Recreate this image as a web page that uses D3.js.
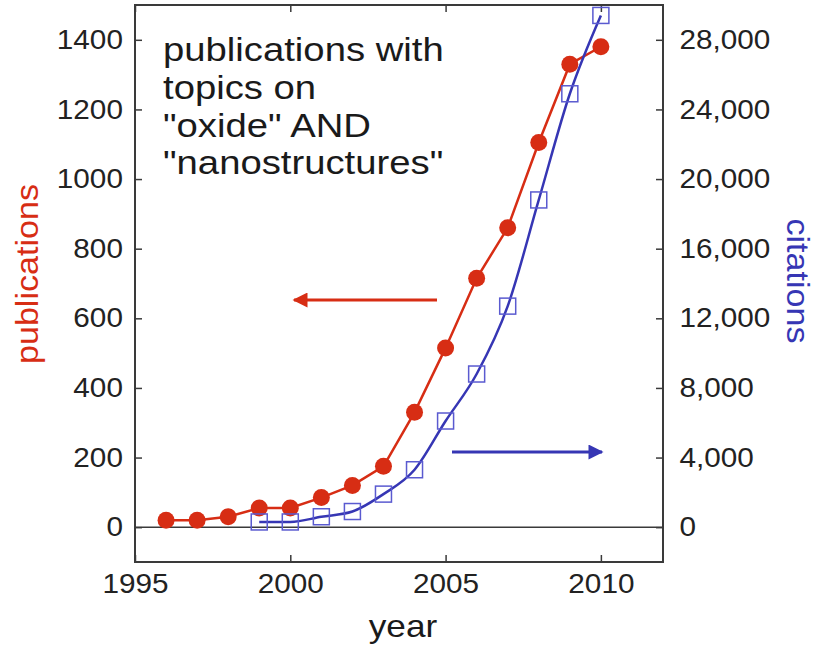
<!DOCTYPE html>
<html>
<head>
<meta charset="utf-8">
<script src="https://cdn.jsdelivr.net/npm/d3@7"></script>
<style>
  body { margin: 0; background: #fff; }
  svg { font-family: "Liberation Sans", Arial, sans-serif; }
</style>
</head>
<body>
<svg id="chart" width="815" height="646"></svg>
<script>
// values
var pubYears = [1996, 1997, 1998, 1999, 2000, 2001, 2002, 2003, 2004, 2005, 2006, 2007, 2008, 2009, 2010];
var publications = [20, 20, 30, 55, 55, 85, 120, 175, 330, 515, 715, 860, 1105, 1330, 1380];
var citYears = [1999, 2000, 2001, 2002, 2003, 2004, 2005, 2006, 2007, 2008, 2009, 2010];
var citations = [300, 300, 600, 900, 1900, 3300, 6100, 8800, 12700, 18800, 24900, 29400];
var xTicks = [1995, 2000, 2005, 2010];
var leftTicks = [0, 200, 400, 600, 800, 1000, 1200, 1400];
var rightTicks = [0, 4000, 8000, 12000, 16000, 20000, 24000, 28000];
var noteLines = ['publications with', 'topics on', '"oxide" AND', '"nanostructures"'];

var red = '#d72d14', blue = '#3636b4', frameColor = '#3a3a3a';
var plotLeft = 135, plotRight = 663, plotTop = 5, plotBottom = 562;
// the source figure's lettering is a bit wider than Liberation Sans
var stretch = 1.1;

var svg = d3.select('#chart');

var x = d3.scaleLinear().domain([1995, 2012]).range([plotLeft, plotRight]);
var yPub = d3.scaleLinear().domain([-100, 1500]).range([plotBottom, plotTop]);
var yCit = d3.scaleLinear().domain([-2000, 30000]).range([plotBottom, plotTop]);

// frame
svg.append('rect')
    .attr('x', plotLeft).attr('y', plotTop)
    .attr('width', plotRight - plotLeft).attr('height', plotBottom - plotTop)
    .attr('fill', 'none').attr('stroke', frameColor).attr('stroke-width', 2);

// zero line
svg.append('line')
    .attr('x1', plotLeft).attr('x2', plotRight)
    .attr('y1', yPub(0)).attr('y2', yPub(0))
    .attr('stroke', frameColor).attr('stroke-width', 1.5);

function styleAxis(g) {
    g.select('.domain').remove();
    g.selectAll('.tick line').attr('stroke', frameColor).attr('stroke-width', 1.5);
    g.selectAll('.tick text')
        .attr('fill', '#222').attr('font-size', 27)
        .attr('transform', 'scale(' + stretch + ',1)');
}

// axes, ticks pointing inwards
svg.append('g')
    .attr('transform', 'translate(0,' + plotBottom + ')')
    .call(d3.axisBottom(x).tickValues(xTicks).tickFormat(d3.format('d')).tickSizeInner(-7).tickPadding(12))
    .call(styleAxis);
svg.append('g')
    .attr('transform', 'translate(0,' + plotTop + ')')
    .call(d3.axisTop(x).tickValues(xTicks).tickSizeInner(-7).tickFormat(''))
    .call(styleAxis);
svg.append('g')
    .attr('transform', 'translate(' + plotLeft + ',0)')
    .call(d3.axisLeft(yPub).tickValues(leftTicks).tickFormat(d3.format('d')).tickSizeInner(-7).tickPadding(11))
    .call(styleAxis);
svg.append('g')
    .attr('transform', 'translate(' + plotRight + ',0)')
    .call(d3.axisRight(yCit).tickValues(rightTicks).tickFormat(d3.format(',')).tickSizeInner(-7).tickPadding(15))
    .call(styleAxis);

// publications series
var pubData = pubYears.map(function(d, i) { return [d, publications[i]]; });
svg.append('path')
    .datum(pubData)
    .attr('fill', 'none').attr('stroke', red).attr('stroke-width', 2.5)
    .attr('d', d3.line()
        .x(function(d) { return x(d[0]); })
        .y(function(d) { return yPub(d[1]); }));
svg.selectAll('circle.pub').data(pubData).enter()
    .append('circle')
        .attr('class', 'pub')
        .attr('cx', function(d) { return x(d[0]); })
        .attr('cy', function(d) { return yPub(d[1]); })
        .attr('r', 8.5)
        .attr('fill', red);

// citations series
var citData = citYears.map(function(d, i) { return [d, citations[i]]; });
svg.append('path')
    .datum(citData)
    .attr('fill', 'none').attr('stroke', blue).attr('stroke-width', 2.5)
    .attr('d', d3.line()
        .x(function(d) { return x(d[0]); })
        .y(function(d) { return yCit(d[1]); })
        .curve(d3.curveMonotoneX));
svg.selectAll('rect.cit').data(citData).enter()
    .append('rect')
        .attr('class', 'cit')
        .attr('x', function(d) { return x(d[0]) - 8; })
        .attr('y', function(d) { return yCit(d[1]) - 8; })
        .attr('width', 16).attr('height', 16)
        .attr('fill', 'none')
        .attr('stroke', '#5a5ad0').attr('stroke-width', 1.5);

// arrows pointing to the axis of each series
var defs = svg.append('defs');
[['arrowRed', red], ['arrowBlue', blue]].forEach(function(a) {
    defs.append('marker')
        .attr('id', a[0])
        .attr('viewBox', '0 0 10 10')
        .attr('refX', 9).attr('refY', 5)
        .attr('markerWidth', 6).attr('markerHeight', 5)
        .attr('markerUnits', 'strokeWidth')
        .attr('orient', 'auto')
        .append('path').attr('d', 'M0,0L10,5L0,10Z').attr('fill', a[1]);
});
svg.append('line')
    .attr('x1', 437).attr('y1', 300).attr('x2', 294).attr('y2', 300)
    .attr('stroke', red).attr('stroke-width', 3)
    .attr('marker-end', 'url(#arrowRed)');
svg.append('line')
    .attr('x1', 452).attr('y1', 452).attr('x2', 602).attr('y2', 452)
    .attr('stroke', blue).attr('stroke-width', 3)
    .attr('marker-end', 'url(#arrowBlue)');

// note
svg.append('g')
    .attr('transform', 'translate(163,0) scale(1.16,1)')
    .selectAll('text').data(noteLines).enter()
    .append('text')
        .attr('x', 0)
        .attr('y', function(d, i) { return 61 + i * 37.8; })
        .attr('font-size', 33)
        .attr('fill', '#1a1a1a')
        .text(function(d) { return d; });

// axis titles
svg.append('text')
    .attr('transform', 'translate(38,274) rotate(-90) scale(' + stretch + ',1)')
    .attr('text-anchor', 'middle')
    .attr('font-size', 31).attr('fill', red)
    .text('publications');
svg.append('text')
    .attr('transform', 'translate(787,281) rotate(90) scale(' + stretch + ',1)')
    .attr('text-anchor', 'middle')
    .attr('font-size', 31).attr('fill', blue)
    .text('citations');
svg.append('text')
    .attr('transform', 'translate(403,637) scale(' + stretch + ',1)')
    .attr('text-anchor', 'middle')
    .attr('font-size', 32).attr('fill', '#1a1a1a')
    .text('year');
</script>
</body>
</html>
